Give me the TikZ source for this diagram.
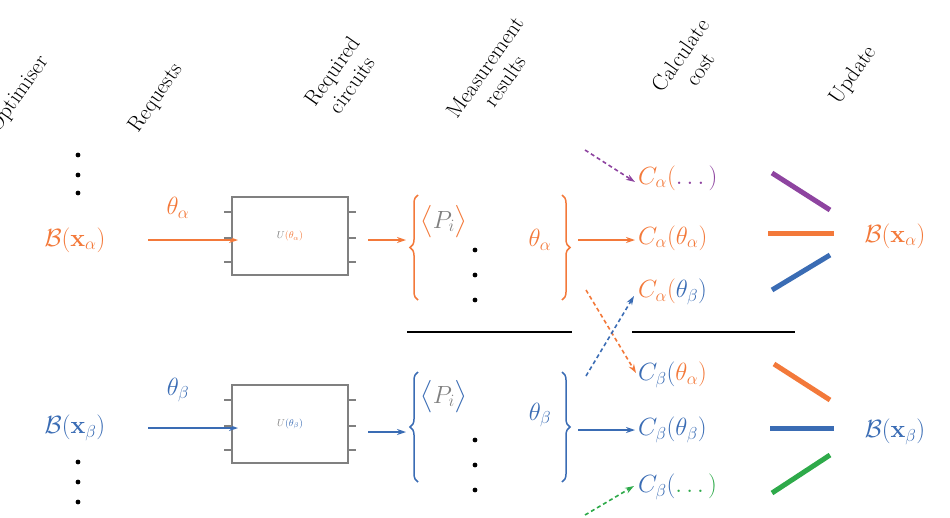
\documentclass[tikz,border=0pt]{standalone}
\usepackage{amsmath,amssymb}
\usetikzlibrary{arrows.meta,decorations.pathreplacing}
\definecolor{cor}{RGB}{243,121,58}
\definecolor{cbl}{RGB}{58,108,180}
\definecolor{cpu}{RGB}{142,68,160}
\definecolor{cgr}{RGB}{46,170,74}
\definecolor{cgy}{RGB}{128,128,128}
\begin{document}
\begin{tikzpicture}[x=1pt,y=-1pt,
  big/.style={font=\fontsize{27}{32}\selectfont,inner sep=0pt},
  hdr/.style={font=\fontsize{22}{24}\selectfont,rotate=55,align=center,inner sep=0pt},
  arr/.style={-{Stealth[length=9pt,width=6pt]},line width=1.2pt},
  darr/.style={arr,dashed,dash pattern=on 4pt off 3pt,line width=1.6pt},
  thick3/.style={line width=5pt},
  box/.style={draw=cgy,line width=2pt,minimum width=116pt,minimum height=78pt,inner sep=0pt},
  pin/.style={draw=cgy,line width=2pt}]
\useasboundingbox (0,0) rectangle (950,517);
% headers
\node[hdr,anchor=south west] (h1) at (2,136) {Optimiser};
\node[hdr,anchor=south west] (h2) at (142,136) {Requests};
\node[hdr] (h3) at (342,78) {Required\\circuits};
\node[hdr] (h4) at (495,74) {Measurement\\results};
\node[hdr] (h5) at (690,62) {Calculate\\cost};
\node[hdr,anchor=south west] (h6) at (843,108) {Update};
% dots
\foreach \y/\n in {155/a,175/b,193/c,462/d,482/e,502/f} \fill (78,\y) circle (2.4pt) coordinate (d\n);
% alpha row
\node[big,text=cor] (Ba) at (75,240) {$\mathcal{B}(\mathbf{x}_\alpha)$};
\node[big,text=cor] (ta) at (178,208) {$\theta_\alpha$};
\node[box] (Ua) at (290,236) {\textcolor{cgy}{$U$}\textcolor{cor}{$(\theta_\alpha)$}};
\coordinate (a1) at (148,240); \coordinate (a2) at (238,240);
\draw[arr,cor] (a1) -- (a2);
\foreach \y in {212,238,262}{\draw[pin] (224,\y) -- (232,\y); \draw[pin] (348,\y) -- (356,\y);}
\node[big,anchor=west] (Pa) at (420,222) {\textcolor{cor}{$\big\langle$}\textcolor{cgy}{$P_i$}\textcolor{cor}{$\big\rangle$}};
\node[big,text=cor] (tha) at (540,240) {$\theta_\alpha$};
\foreach \y in {250,275,300} \fill (475,\y) circle (2.4pt);
\draw[cor,line width=1.5pt,decorate,decoration={brace,amplitude=8pt}] (418,300) -- (418,195) coordinate (lbA);
\draw[cor,line width=1.5pt,decorate,decoration={brace,amplitude=8pt}] (562,195) -- (562,300) coordinate (rbA);
\coordinate (b1) at (368,240); \coordinate (b2) at (406,240);
\draw[arr,cor] (b1) -- (b2);
\coordinate (c1) at (578,240); \coordinate (c2) at (635,240);
\draw[arr,cor] (c1) -- (c2);
\node[big,anchor=west] (Caa0) at (638,178) {\textcolor{cor}{$C_\alpha($}\textcolor{cpu}{$\dots)$}};
\node[big,anchor=west,text=cor] (Caa) at (638,238) {$C_\alpha(\theta_\alpha)$};
\node[big,anchor=west] (Cab) at (638,292) {\textcolor{cor}{$C_\alpha($}\textcolor{cbl}{$\theta_\beta)$}};
\node[big,text=cor] (Ba2) at (895,236) {$\mathcal{B}(\mathbf{x}_\alpha)$};
% beta row
\node[big,text=cbl] (Bb) at (75,428) {$\mathcal{B}(\mathbf{x}_\beta)$};
\node[big,text=cbl] (tb) at (178,390) {$\theta_\beta$};
\node[box] (Ub) at (290,424) {\textcolor{cgy}{$U$}\textcolor{cbl}{$(\theta_\beta)$}};
\coordinate (a3) at (148,428); \coordinate (a4) at (238,428);
\draw[arr,cbl] (a3) -- (a4);
\foreach \y in {400,426,450}{\draw[pin] (224,\y) -- (232,\y); \draw[pin] (348,\y) -- (356,\y);}
\node[big,anchor=west] (Pb) at (420,397) {\textcolor{cbl}{$\big\langle$}\textcolor{cgy}{$P_i$}\textcolor{cbl}{$\big\rangle$}};
\node[big,text=cbl] (thb) at (540,415) {$\theta_\beta$};
\foreach \y in {440,465,490} \fill (475,\y) circle (2.4pt);
\draw[cbl,line width=1.5pt,decorate,decoration={brace,amplitude=8pt}] (418,482) -- (418,372) coordinate (lbB);
\draw[cbl,line width=1.5pt,decorate,decoration={brace,amplitude=8pt}] (562,372) -- (562,482) coordinate (rbB);
\coordinate (b3) at (368,432); \coordinate (b4) at (406,432);
\draw[arr,cbl] (b3) -- (b4);
\coordinate (c3) at (578,430); \coordinate (c4) at (635,430);
\draw[arr,cbl] (c3) -- (c4);
\node[big,anchor=west] (Cba) at (638,375) {\textcolor{cbl}{$C_\beta($}\textcolor{cor}{$\theta_\alpha)$}};
\node[big,anchor=west,text=cbl] (Cbb) at (638,430) {$C_\beta(\theta_\beta)$};
\node[big,anchor=west] (Cb0) at (638,487) {\textcolor{cbl}{$C_\beta($}\textcolor{cgr}{$\dots)$}};
\node[big,text=cbl] (Bb2) at (895,432) {$\mathcal{B}(\mathbf{x}_\beta)$};
% thick update lines
\coordinate (p1) at (772,173); \coordinate (p2) at (830,210);
\coordinate (o1) at (768,233); \coordinate (o2) at (834,233);
\coordinate (q1) at (772,290); \coordinate (q2) at (830,255);
\coordinate (r1) at (774,364); \coordinate (r2) at (830,400);
\coordinate (s1) at (770,428); \coordinate (s2) at (834,428);
\coordinate (g1) at (772,493); \coordinate (g2) at (830,455);
\draw[thick3,cpu] (p1) -- (p2);
\draw[thick3,cor] (o1) -- (o2);
\draw[thick3,cbl] (q1) -- (q2);
\draw[thick3,cor] (r1) -- (r2);
\draw[thick3,cbl] (s1) -- (s2);
\draw[thick3,cgr] (g1) -- (g2);
% separators
\coordinate (l1) at (407,332); \coordinate (l2) at (572,332);
\coordinate (l3) at (632,332); \coordinate (l4) at (795,332);
\draw[line width=1.2pt] (l1) -- (l2);
\draw[line width=1.2pt] (l3) -- (l4);
% dashed arrows
\coordinate (e1) at (585,150); \coordinate (e2) at (635,182);
\coordinate (f1) at (586,290); \coordinate (f2) at (636,373);
\coordinate (k1) at (586,376); \coordinate (k2) at (634,296);
\coordinate (m1) at (585,515); \coordinate (m2) at (634,486);
\draw[darr,cpu] (e1) -- (e2);
\draw[darr,cor] (f1) -- (f2);
\draw[darr,cbl] (k1) -- (k2);
\draw[darr,cgr] (m1) -- (m2);
\end{tikzpicture}
\end{document}
